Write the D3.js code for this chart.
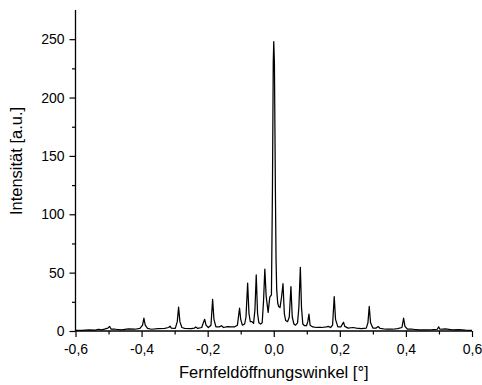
<!DOCTYPE html>
<html>
<head>
<meta charset="utf-8">
<script src="https://cdn.jsdelivr.net/npm/d3@7"></script>
<style>
  html, body { margin: 0; padding: 0; background: #fff; }
  svg text { font-family: "Liberation Sans", Arial, sans-serif; fill: #000; }
</style>
</head>
<body>
<svg id="chart" width="482" height="385"></svg>
<script>
// Far-field intensity profile (angle in degrees, intensity in a.u.)
const angle = [
  -0.600, -0.580, -0.560, -0.540, -0.530, -0.520, -0.510, -0.502, -0.497, -0.492,
  -0.480, -0.460, -0.440, -0.420, -0.405, -0.397, -0.393, -0.389, -0.382, -0.370,
  -0.350, -0.330, -0.318, -0.314, -0.310, -0.298, -0.292, -0.288, -0.284, -0.278,
  -0.270, -0.250, -0.240, -0.236, -0.230, -0.218, -0.212, -0.209, -0.205, -0.198,
  -0.190, -0.185, -0.181, -0.175, -0.165, -0.158, -0.152, -0.140, -0.128, -0.118,
  -0.110, -0.1035, -0.100, -0.095, -0.088, -0.084, -0.079, -0.075, -0.071, -0.066,
  -0.061, -0.057, -0.053, -0.049, -0.045, -0.040, -0.035, -0.031, -0.027, -0.023,
  -0.017, -0.012, -0.007, -0.004, -0.0015, 0.000, 0.002, 0.005, 0.007, 0.009,
  0.012, 0.015, 0.019, 0.024, 0.028, 0.032, 0.036, 0.042, 0.047, 0.052,
  0.056, 0.061, 0.066, 0.072, 0.076, 0.0805, 0.084, 0.088, 0.093, 0.099,
  0.103, 0.1065, 0.110, 0.118, 0.130, 0.145, 0.160, 0.165, 0.172, 0.178,
  0.183, 0.187, 0.194, 0.203, 0.208, 0.211, 0.215, 0.225, 0.240, 0.250,
  0.265, 0.280, 0.285, 0.289, 0.293, 0.300, 0.310, 0.316, 0.322, 0.340,
  0.360, 0.375, 0.388, 0.393, 0.397, 0.405, 0.420, 0.440, 0.460, 0.480,
  0.495, 0.499, 0.503, 0.520, 0.540, 0.560, 0.580, 0.600
];
const intensity = [
  0.5, 0.6, 1.0, 0.8, 1.5, 1.0, 1.8, 2.5, 4.0, 1.5,
  1.5, 1.0, 1.8, 1.5, 2.2, 5.0, 11.0, 5.0, 2.2, 1.5,
  2.0, 2.3, 3.0, 4.2, 2.5, 2.3, 8.0, 20.5, 8.0, 3.0,
  2.2, 2.0, 2.5, 3.5, 2.2, 3.0, 8.0, 10.0, 5.0, 3.0,
  5.0, 27.0, 10.0, 3.5, 3.5, 4.5, 3.0, 3.8, 3.5, 3.6,
  5.0, 19.5, 10.0, 5.0, 6.0, 12.0, 41.0, 15.0, 8.0, 8.0,
  6.5, 18.0, 48.0, 15.0, 7.0, 6.0, 7.0, 25.0, 53.0, 30.0,
  16.0, 29.0, 31.0, 120.0, 230.0, 248.0, 230.0, 120.0, 60.0, 35.0,
  24.0, 21.0, 20.0, 30.0, 40.5, 15.0, 9.0, 8.0, 12.0, 38.0,
  12.0, 6.0, 5.0, 7.0, 20.0, 54.5, 20.0, 6.0, 4.5, 4.5,
  8.0, 14.5, 5.0, 3.5, 3.0, 3.0, 3.5, 4.0, 3.0, 5.0,
  29.5, 10.0, 3.5, 3.5, 6.0, 7.5, 4.0, 2.5, 3.0, 2.5,
  2.0, 2.5, 7.0, 21.0, 7.0, 2.5, 2.5, 3.8, 2.2, 1.5,
  1.5, 2.0, 3.0, 11.0, 4.0, 1.5, 1.5, 1.0, 1.0, 1.2,
  1.5, 3.5, 1.5, 1.8, 1.0, 1.2, 0.8, 0.6
];

// Axis ticks
const xTicks = [-0.6, -0.4, -0.2, 0.0, 0.2, 0.4, 0.6];
const xMinorTicks = [-0.5, -0.3, -0.1, 0.1, 0.3, 0.5];
const yTicks = [0, 50, 100, 150, 200, 250];
const yMinorTicks = [25, 75, 125, 175, 225];

const xLabel = "Fernfeldöffnungswinkel [°]";
const yLabel = "Intensität [a.u.]";

const svg = d3.select("#chart");
const plotLeft = 75.5, plotRight = 472, plotTop = 10, plotBottom = 331;

const x = d3.scaleLinear().domain([-0.6, 0.6]).range([plotLeft, plotRight]);
const y = d3.scaleLinear().domain([0, 275]).range([plotBottom, plotTop]);

const fmt = v => d3.format(".1f")(v).replace(".", ",").replace("−", "-");

// x axis
const gx = svg.append("g").attr("transform", `translate(0,${plotBottom})`);
gx.call(d3.axisBottom(x).tickValues(xTicks).tickSize(6).tickPadding(7).tickFormat(fmt));
gx.append("g").call(d3.axisBottom(x).tickValues(xMinorTicks).tickSize(3.5).tickFormat(""))
  .select(".domain").remove();

// y axis
const gy = svg.append("g").attr("transform", `translate(${plotLeft},0)`);
gy.call(d3.axisLeft(y).tickValues(yTicks).tickSize(6).tickPadding(5).tickFormat(d3.format("d")));
gy.append("g").call(d3.axisLeft(y).tickValues(yMinorTicks).tickSize(3.5).tickFormat(""))
  .select(".domain").remove();

svg.selectAll(".domain").attr("stroke", "#000").attr("stroke-width", 1.3);
svg.selectAll(".tick line").attr("stroke", "#000").attr("stroke-width", 1.2);
svg.selectAll(".tick text").attr("font-size", 14)
  .attr("font-family", '"Liberation Sans", Arial, sans-serif').attr("fill", "#000");
gx.selectAll(".domain").attr("d", `M${plotLeft},0H${plotRight}`);
gy.selectAll(".domain").attr("d", `M0,${plotTop}V${plotBottom}`);

// intensity trace
const pts = angle.map((a, i) => [a, intensity[i]]);
svg.append("path")
  .datum(pts)
  .attr("fill", "none")
  .attr("stroke", "#000")
  .attr("stroke-width", 1.25)
  .attr("stroke-linejoin", "round")
  .attr("d", d3.line().x(d => x(d[0])).y(d => y(d[1])));

// axis titles
svg.append("text")
  .attr("x", (plotLeft + plotRight) / 2)
  .attr("y", 378)
  .attr("text-anchor", "middle")
  .attr("font-size", 16.5)
  .text(xLabel);

svg.append("text")
  .attr("transform", "translate(22,161) rotate(-90)")
  .attr("text-anchor", "middle")
  .attr("font-size", 16.5)
  .text(yLabel);
</script>
</body>
</html>
